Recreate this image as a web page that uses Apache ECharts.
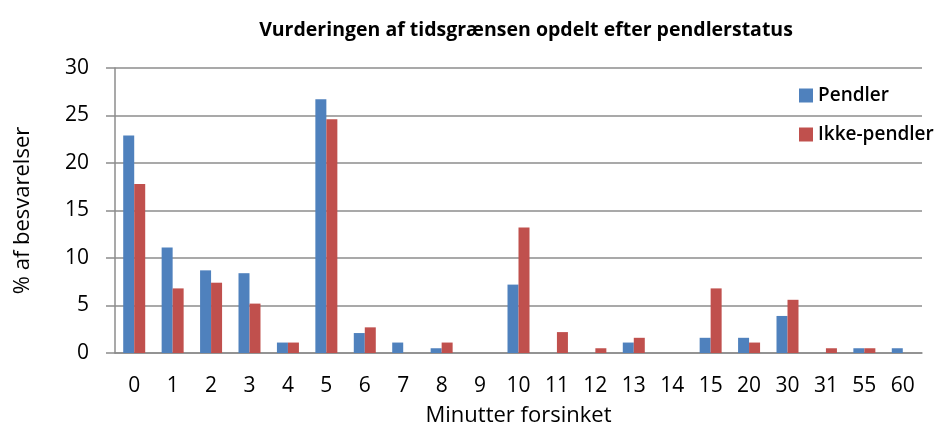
<!DOCTYPE html>
<html>
<head>
<meta charset="utf-8">
<script src="https://cdn.jsdelivr.net/npm/echarts@6/dist/echarts.min.js"></script>
<style>
  html, body { margin: 0; padding: 0; background: #fff; }
  #chart { width: 938px; height: 432px; }
</style>
</head>
<body>
<div id="chart"></div>
<script>
var categories = ['0', '1', '2', '3', '4', '5', '6', '7', '8', '9', '10', '11', '12', '13', '14', '15', '20', '30', '31', '55', '60'];
var pendler = [22.9, 11.1, 8.7, 8.4, 1.1, 26.7, 2.1, 1.1, 0.5, 0, 7.2, 0, 0, 1.1, 0, 1.6, 1.6, 3.9, 0, 0.5, 0.5];
var ikkePendler = [17.8, 6.8, 7.4, 5.2, 1.1, 24.6, 2.7, 0, 1.1, 0, 13.2, 2.2, 0.5, 1.6, 0, 6.8, 1.1, 5.6, 0.5, 0.5, 0];

var myChart = echarts.init(document.getElementById('chart'));
var font = '"Open Sans", Lato, sans-serif';
var gray = '#8c8c8c';

var option = {
  animation: false,
  title: {
    text: 'Vurderingen af tidsgrænsen opdelt efter pendlerstatus',
    left: 521,
    textAlign: 'center',
    top: 15,
    textStyle: { fontFamily: font, fontSize: 19.5, fontWeight: 'bold', color: '#000' }
  },
  legend: {
    orient: 'vertical',
    left: 794,
    top: 81,
    itemWidth: 14,
    itemHeight: 14,
    itemGap: 20,
    icon: 'rect',
    textStyle: { fontFamily: font, fontSize: 19, fontWeight: 600, color: '#000' },
    data: ['Pendler', 'Ikke-pendler']
  },
  grid: { left: 115, right: 16, top: 68, bottom: 74 },
  xAxis: {
    type: 'category',
    data: categories,
    name: 'Minutter forsinket',
    nameLocation: 'middle',
    nameGap: 52,
    nameTextStyle: { fontFamily: font, fontSize: 22, color: '#000' },
    axisLine: { lineStyle: { color: gray, width: 1.5 } },
    axisTick: { length: 9, lineStyle: { color: gray, width: 1.5 } },
    axisLabel: { fontFamily: font, fontSize: 21, color: '#000', margin: 23 }
  },
  yAxis: {
    type: 'value',
    min: 0,
    max: 30,
    interval: 5,
    name: '% af besvarelser',
    nameLocation: 'middle',
    nameGap: 81,
    nameTextStyle: { fontFamily: font, fontSize: 22, color: '#000' },
    axisLine: { show: true, lineStyle: { color: gray, width: 1.5 } },
    axisTick: { show: true, length: 9, lineStyle: { color: gray, width: 1.5 } },
    axisLabel: { fontFamily: font, fontSize: 21, color: '#000', margin: 26 },
    splitLine: { lineStyle: { color: gray, width: 1.5 } }
  },
  series: [
    {
      name: 'Pendler',
      type: 'bar',
      data: pendler,
      barWidth: 11,
      barGap: '0%',
      itemStyle: { color: '#4F81BD' }
    },
    {
      name: 'Ikke-pendler',
      type: 'bar',
      data: ikkePendler,
      barWidth: 11,
      itemStyle: { color: '#C0504D' }
    }
  ]
};

myChart.setOption(option);
</script>
</body>
</html>
